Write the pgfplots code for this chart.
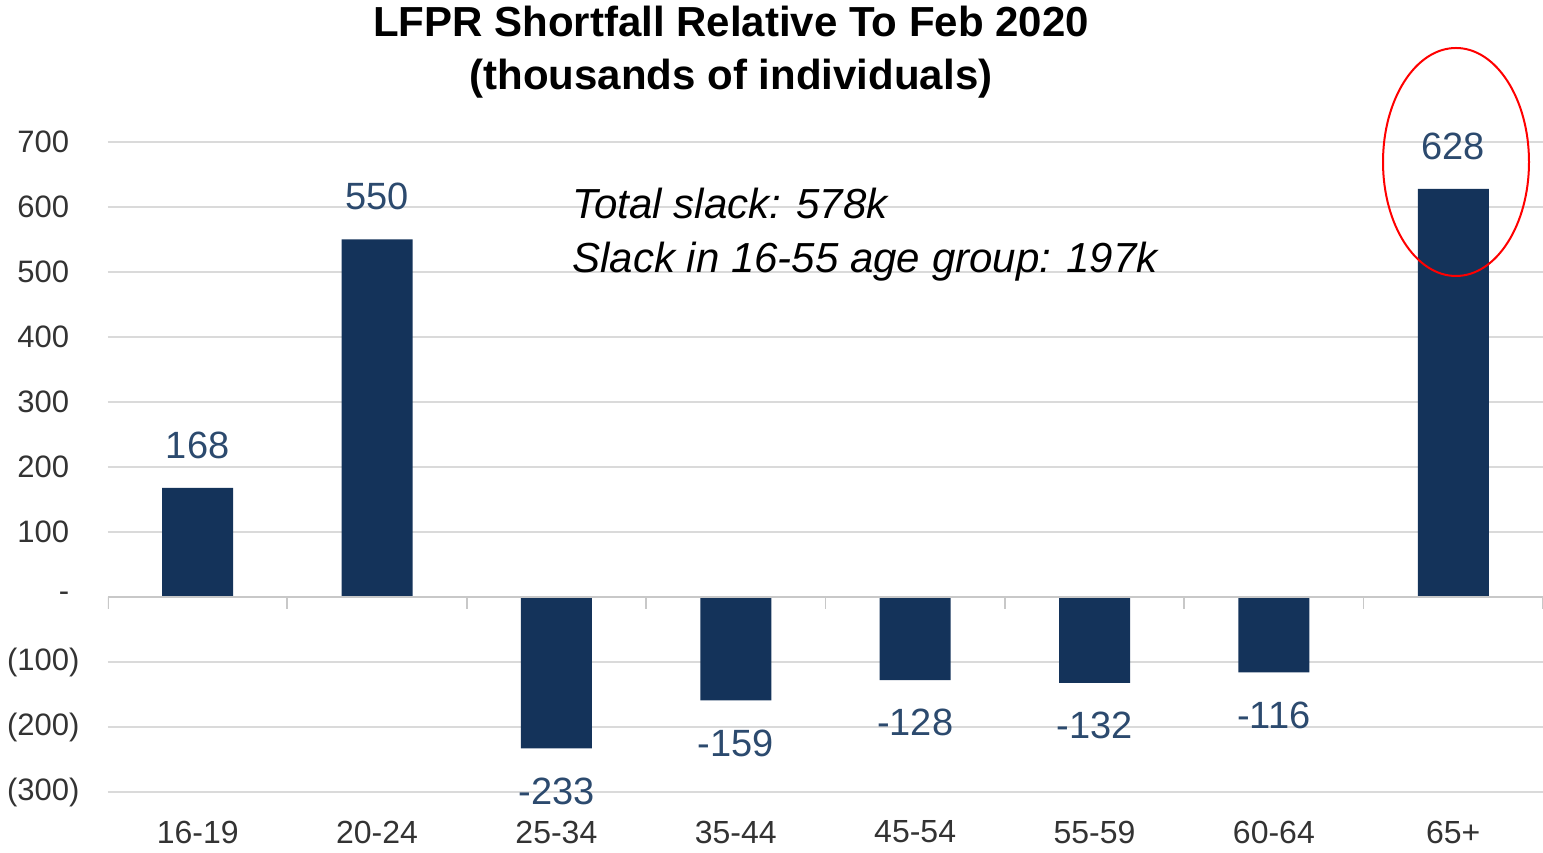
\documentclass[border=0pt]{standalone}
\usepackage{fontspec}
\setmainfont{Liberation Sans}
\usepackage{pgfplots}
\pgfplotsset{compat=1.18}
\definecolor{barblue}{HTML}{14335A}
\definecolor{lblblue}{HTML}{2C4A6E}
\definecolor{gridgray}{HTML}{DADADA}
\definecolor{zerogray}{HTML}{C8C8C8}
\definecolor{ticktext}{HTML}{333333}

\begin{document}
\begin{tikzpicture}[x=1pt,y=1pt]
\path[use as bounding box] (0,0) rectangle (1543,853);
\begin{axis}[
  at={(108pt,61pt)}, anchor=south west,
  scale only axis, width=1435pt, height=650pt,
  ybar, bar width=71pt, bar shift=0pt,
  xmin=-0.5, xmax=7.5, ymin=-300, ymax=700,
  xtick={0,...,7},
  xticklabels={16-19,20-24,25-34,35-44,45-54,55-59,60-64,65+},
  ytick={-300,-200,...,700},
  yticklabels={(300),(200),(100),-\hphantom{)},100\hphantom{)},200\hphantom{)},300\hphantom{)},400\hphantom{)},500\hphantom{)},600\hphantom{)},700\hphantom{)}},
  tick style={draw=none},
  axis line style={draw=none},
  ymajorgrids, grid style={color=gridgray, line width=1.8pt},
  tick label style={font=\fontsize{31}{36}\selectfont, text=ticktext},
  yticklabel style={xshift=-25pt},
  xticklabel style={yshift=-21pt, font=\fontsize{32}{36}\selectfont},
  nodes near coords={\pgfmathprintnumber[assume math mode=true]{\pgfplotspointmeta}},
  every node near coord/.append style={font=\fontsize{38}{44}\selectfont, text=lblblue, inner ysep=29pt, inner xsep=0pt},
]
\addplot[fill=barblue, draw=none] coordinates {(0,168) (1,550) (2,-233) (3,-159) (4,-128) (5,-132) (6,-116) (7,628)};
\draw[zerogray, line width=1.8pt] (axis cs:-0.5,0) -- (axis cs:7.5,0);
\pgfplotsinvokeforeach{-0.5,0.5,1.5,2.5,3.5,4.5,5.5,6.5,7.5}{
  \draw[zerogray, line width=1.8pt] (axis cs:#1,0) -- ([yshift=-12pt]axis cs:#1,0);
}
\end{axis}
\node[font=\fontsize{42}{53}\selectfont\bfseries, align=center] at (731,801) {LFPR Shortfall Relative To Feb 2020\\(thousands of individuals)};
\node[anchor=west, align=left, font=\fontsize{42}{54}\selectfont\itshape] at (569,618) {Total slack: 578k\\Slack in 16-55 age group: 197k};
\draw[red, line width=2pt] (1456,691) ellipse [x radius=73, y radius=114];
\end{tikzpicture}
\end{document}
